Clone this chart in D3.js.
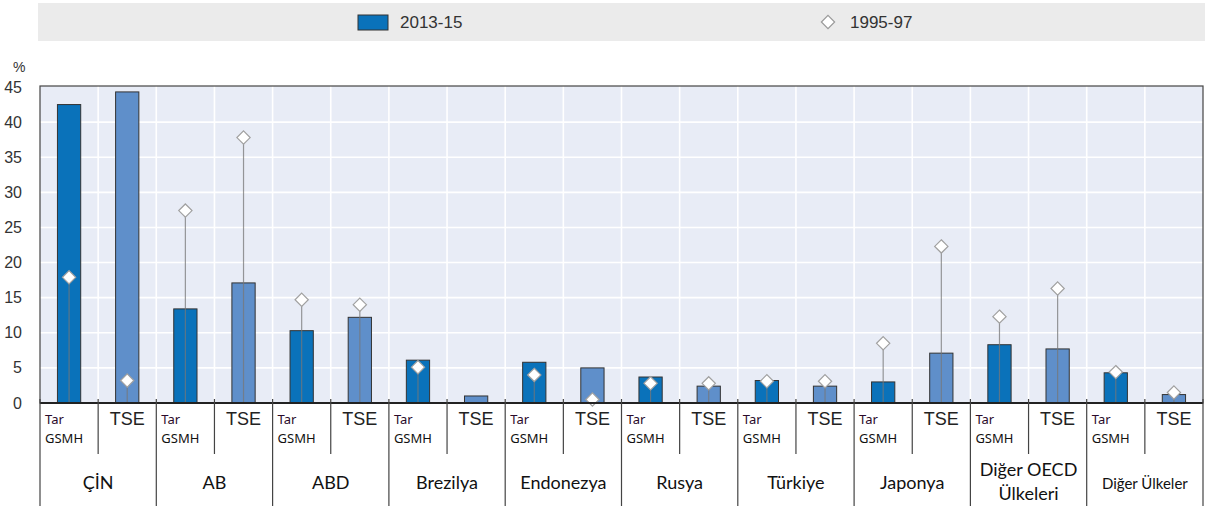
<!DOCTYPE html>
<html lang="tr">
<head>
<meta charset="UTF-8">
<title>Tar GSMH / TSE</title>
<script src="https://d3js.org/d3.v7.min.js"></script>
<style>
  *{margin:0;padding:0;box-sizing:border-box}
  body{background:#fff;width:1205px;height:506px;overflow:hidden}
  .num{font-family:'Liberation Sans Narrow','Arial Narrow','Liberation Sans',sans-serif;fill:#333}
  .cat{font-family:Lato,'Open Sans',sans-serif;fill:#111}
</style>
</head>
<body>
<div id="chart"></div>
<script>
  /* ---------- DATA ---------- */
  const countries = ["ÇİN","AB","ABD","Brezilya","Endonezya","Rusya","Türkiye","Japonya","Diğer OECD\nÜlkeleri","Diğer Ülkeler"];
  const subCats   = ["Tar GSMH","TSE"];
  const tar2013   = [42.5, 13.4, 10.3, 6.1, 5.8, 3.7, 3.2, 3.0, 8.3, 4.3];
  const tse2013   = [44.3, 17.1, 12.2, 1.0, 5.0, 2.4, 2.4, 7.1, 7.7, 1.2];
  const tar1995   = [17.9, 27.4, 14.7, 5.1, 4.0, 2.8, 3.1, 8.5, 12.3, 4.4];
  const tse1995   = [3.2, 37.8, 14.0, null, 0.5, 2.8, 3.1, 22.3, 16.3, 1.5];
  const yTicks    = [0,5,10,15,20,25,30,35,40,45];
  const seriesNames = ["2013-15","1995-97"];

  /* ---------- BUILD ROWS ---------- */
  const rows = [];
  countries.forEach((c,i)=>{
    rows.push({key:c+"|0",country:c,sub:0,v:tar2013[i],old:tar1995[i]});
    rows.push({key:c+"|1",country:c,sub:1,v:tse2013[i],old:tse1995[i]});
  });

  const W=1205,H=506;
  const plot={left:40,right:1203,top:86,bottom:403};
  const colors=["#0a72ba","#5f8fca"];

  const svg=d3.select('#chart').append('svg').attr('width',W).attr('height',H);

  const x=d3.scaleBand().domain(rows.map(d=>d.key)).range([plot.left,plot.right]).padding(0);
  const y=d3.scaleLinear().domain([0,45]).range([plot.bottom,plot.top+1]);
  const bw=x.bandwidth()*0.4;
  const cx=d=>x(d.key)+x.bandwidth()/2;
  const diamond=d3.symbol(d3.symbolDiamond2,112)();

  /* ---- legend band ---- */
  svg.append('rect').attr('x',38).attr('y',3).attr('width',W-38).attr('height',38).attr('fill','#ebebeb');
  svg.append('rect').attr('x',358).attr('y',15).attr('width',30).attr('height',15)
     .attr('fill',colors[0]).attr('stroke','#333').attr('stroke-width',1);
  svg.append('text').attr('class','num').attr('x',400).attr('y',28).attr('font-size',17).text(seriesNames[0]);
  svg.append('path').attr('d',diamond).attr('transform','translate(828,22)')
     .attr('fill','#fff').attr('stroke','#999').attr('stroke-width',1.2);
  svg.append('text').attr('class','num').attr('x',850).attr('y',28).attr('font-size',17).text(seriesNames[1]);

  /* ---- plot background + grid ---- */
  svg.append('rect').attr('x',plot.left).attr('y',plot.top).attr('width',plot.right-plot.left)
     .attr('height',plot.bottom-plot.top).attr('fill','#e8ecf6');
  svg.append('g').selectAll('line').data(yTicks.slice(1,-1)).join('line')
     .attr('x1',plot.left).attr('x2',plot.right).attr('y1',d=>y(d)).attr('y2',d=>y(d))
     .attr('stroke','#fff').attr('stroke-width',1.6);
  svg.append('g').selectAll('line').data(rows.slice(1)).join('line')
     .attr('x1',d=>x(d.key)).attr('x2',d=>x(d.key)).attr('y1',plot.top).attr('y2',plot.bottom)
     .attr('stroke','#fff').attr('stroke-width',1.6);
  svg.append('rect').attr('x',plot.left).attr('y',plot.top).attr('width',plot.right-plot.left)
     .attr('height',plot.bottom-plot.top).attr('fill','none').attr('stroke','#444').attr('stroke-width',1.2);

  /* ---- y axis labels ---- */
  svg.append('g').selectAll('text').data(yTicks).join('text').attr('class','num')
     .attr('x',22).attr('y',d=>y(d)).attr('dy','0.35em').attr('text-anchor','end')
     .attr('font-size',16).text(d=>d);
  svg.append('text').attr('class','num').attr('x',13).attr('y',72).attr('font-size',14).text('%');

  /* ---- bars ---- */
  svg.append('g').selectAll('rect').data(rows).join('rect')
     .attr('x',d=>cx(d)-bw/2).attr('y',d=>y(d.v)).attr('width',bw).attr('height',d=>y(0)-y(d.v))
     .attr('fill',d=>colors[d.sub]).attr('stroke','#333').attr('stroke-width',1);

  /* ---- 1995-97 stems + diamonds ---- */
  const olds=rows.filter(d=>d.old!=null);
  svg.append('g').selectAll('line').data(olds).join('line')
     .attr('x1',cx).attr('x2',cx).attr('y1',y(0)).attr('y2',d=>y(d.old))
     .attr('stroke','#777').attr('stroke-opacity',0.75).attr('stroke-width',1.2);
  svg.append('g').selectAll('path').data(olds).join('path')
     .attr('d',diamond)
     .attr('transform',d=>`translate(${cx(d)},${y(d.old)})`)
     .attr('fill','#fff').attr('stroke','#a0a0a0').attr('stroke-width',1.2);

  /* ---- bottom axis line ---- */
  svg.append('line').attr('x1',plot.left).attr('x2',plot.right).attr('y1',plot.bottom).attr('y2',plot.bottom)
     .attr('stroke','#222').attr('stroke-width',2);

  /* ---- category table ---- */
  const grp=svg.append('g');
  const groupEdges=rows.filter(d=>d.sub===0).map(d=>x(d.key)).concat([plot.right]);
  grp.selectAll('line.g').data(groupEdges).join('line').attr('class','g')
     .attr('x1',d=>d).attr('x2',d=>d).attr('y1',plot.bottom-4).attr('y2',H)
     .attr('stroke','#444').attr('stroke-width',1.2);
  grp.selectAll('line.s').data(rows.filter(d=>d.sub===1)).join('line').attr('class','s')
     .attr('x1',d=>x(d.key)).attr('x2',d=>x(d.key)).attr('y1',plot.bottom-4).attr('y2',454)
     .attr('stroke','#444').attr('stroke-width',1.2);

  // Tar GSMH labels
  rows.filter(d=>d.sub===0).forEach(d=>{
    const t=grp.append('text').attr('font-family',"'Noto Sans',sans-serif")
      .attr('font-size',13).attr('fill','#111');
    const parts=subCats[0].split(' ');
    t.append('tspan').attr('x',x(d.key)+5).attr('y',424).attr('fill','#2a0a2a').text(parts[0]);
    t.append('tspan').attr('x',x(d.key)+5).attr('y',443).text(parts[1]);
  });
  // TSE labels
  grp.selectAll('text.tse').data(rows.filter(d=>d.sub===1)).join('text').attr('class','num tse')
     .attr('x',cx).attr('y',425).attr('text-anchor','middle').attr('font-size',18)
     .style('fill','#222').text(subCats[1]);

  // country names
  rows.filter(d=>d.sub===0).forEach(d=>{
    const mid=x(d.key)+x.bandwidth();
    const lines=d.country.split('\n');
    const small=d.country.length>12 && lines.length===1;
    const t=grp.append('text').attr('class','cat').attr('text-anchor','middle')
       .attr('font-size',small?15:18);
    lines.forEach((ln,j)=>{
      t.append('tspan').attr('x',mid)
       .attr('y',lines.length>1?476+j*24:489).text(ln);
    });
  });
</script>
</body>
</html>
